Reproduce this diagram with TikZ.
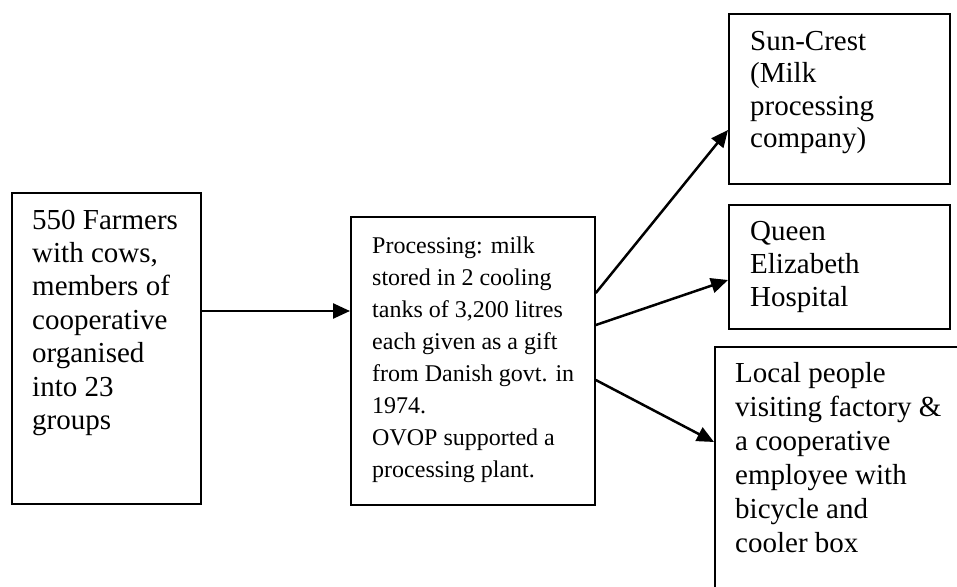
\documentclass[tikz,border=0pt]{standalone}
\usepackage{fontspec}
\setmainfont{Liberation Serif}
\usetikzlibrary{arrows.meta}
\newcommand\linesbox[3]{\vtop{\hsize=#1\parindent=0pt\parskip=0pt\baselineskip=#2\lineskiplimit=-20pt\relax #3}}
\begin{document}
\begin{tikzpicture}[x=1pt,y=-1pt,
  box/.style={draw=black,line width=1.8pt,inner sep=0pt,anchor=north west},
  bigtxt/.style={inner sep=0pt,anchor=base west,font=\fontsize{29}{33}\selectfont},
  smalltxt/.style={inner sep=0pt,anchor=base west,font=\fontsize{24}{32}\selectfont},
  conn/.style={line width=2.5pt,-{Triangle[length=17pt,width=15pt]}}]
\useasboundingbox (0,0) rectangle (957,586);
\fill[white] (0,0) rectangle (957,586);
% boxes
\node[box,minimum width=189pt,minimum height=311pt] (farm) at (11,192) {};
\node[box,minimum width=244pt,minimum height=288pt] (proc) at (350,216) {};
\node[box,minimum width=221pt,minimum height=170pt] (sun) at (728,13) {};
\node[box,minimum width=221pt,minimum height=124pt] (queen) at (728,204) {};
\begin{scope}
\clip (0,0) rectangle (957,586);
\node[box,minimum width=250pt,minimum height=260pt] (local) at (714,346) {};
\end{scope}
% texts
\node[bigtxt] (farmtxt) at (32,229) {\linesbox{180pt}{33.4pt}{550 Farmers\par with cows,\par members of\par cooperative\par organised\par into 23\par groups\par}};
\node[smalltxt] (proctxt) at (372,253) {\linesbox{230pt}{32.1pt}{Processing: milk\par stored in 2 cooling\par tanks of 3,200 litres\par each given as a gift\par from Danish govt. in\par 1974.\par OVOP supported a\par processing plant.\par}};
\node[bigtxt] (suntxt) at (750,50) {\linesbox{200pt}{32.5pt}{Sun-Crest\par (Milk\par processing\par company)\par}};
\node[bigtxt] (queentxt) at (750,240) {\linesbox{200pt}{33.4pt}{Queen\par Elizabeth\par Hospital\par}};
\node[bigtxt] (localtxt) at (735,382) {\linesbox{220pt}{34pt}{Local people\par visiting factory \&\par a cooperative\par employee with\par bicycle and\par cooler box\par}};
% connectors
\draw[conn] ([yshift=-119pt]farm.north east) -- ([yshift=-95pt]proc.north west);
\draw[conn] ([yshift=-77pt]proc.north east) -- ([yshift=-117pt]sun.north west);
\draw[conn] ([yshift=-109pt]proc.north east) -- ([yshift=-76pt]queen.north west);
\draw[conn] ([yshift=-164pt]proc.north east) -- ([yshift=-96pt]local.north west);
\end{tikzpicture}
\end{document}
